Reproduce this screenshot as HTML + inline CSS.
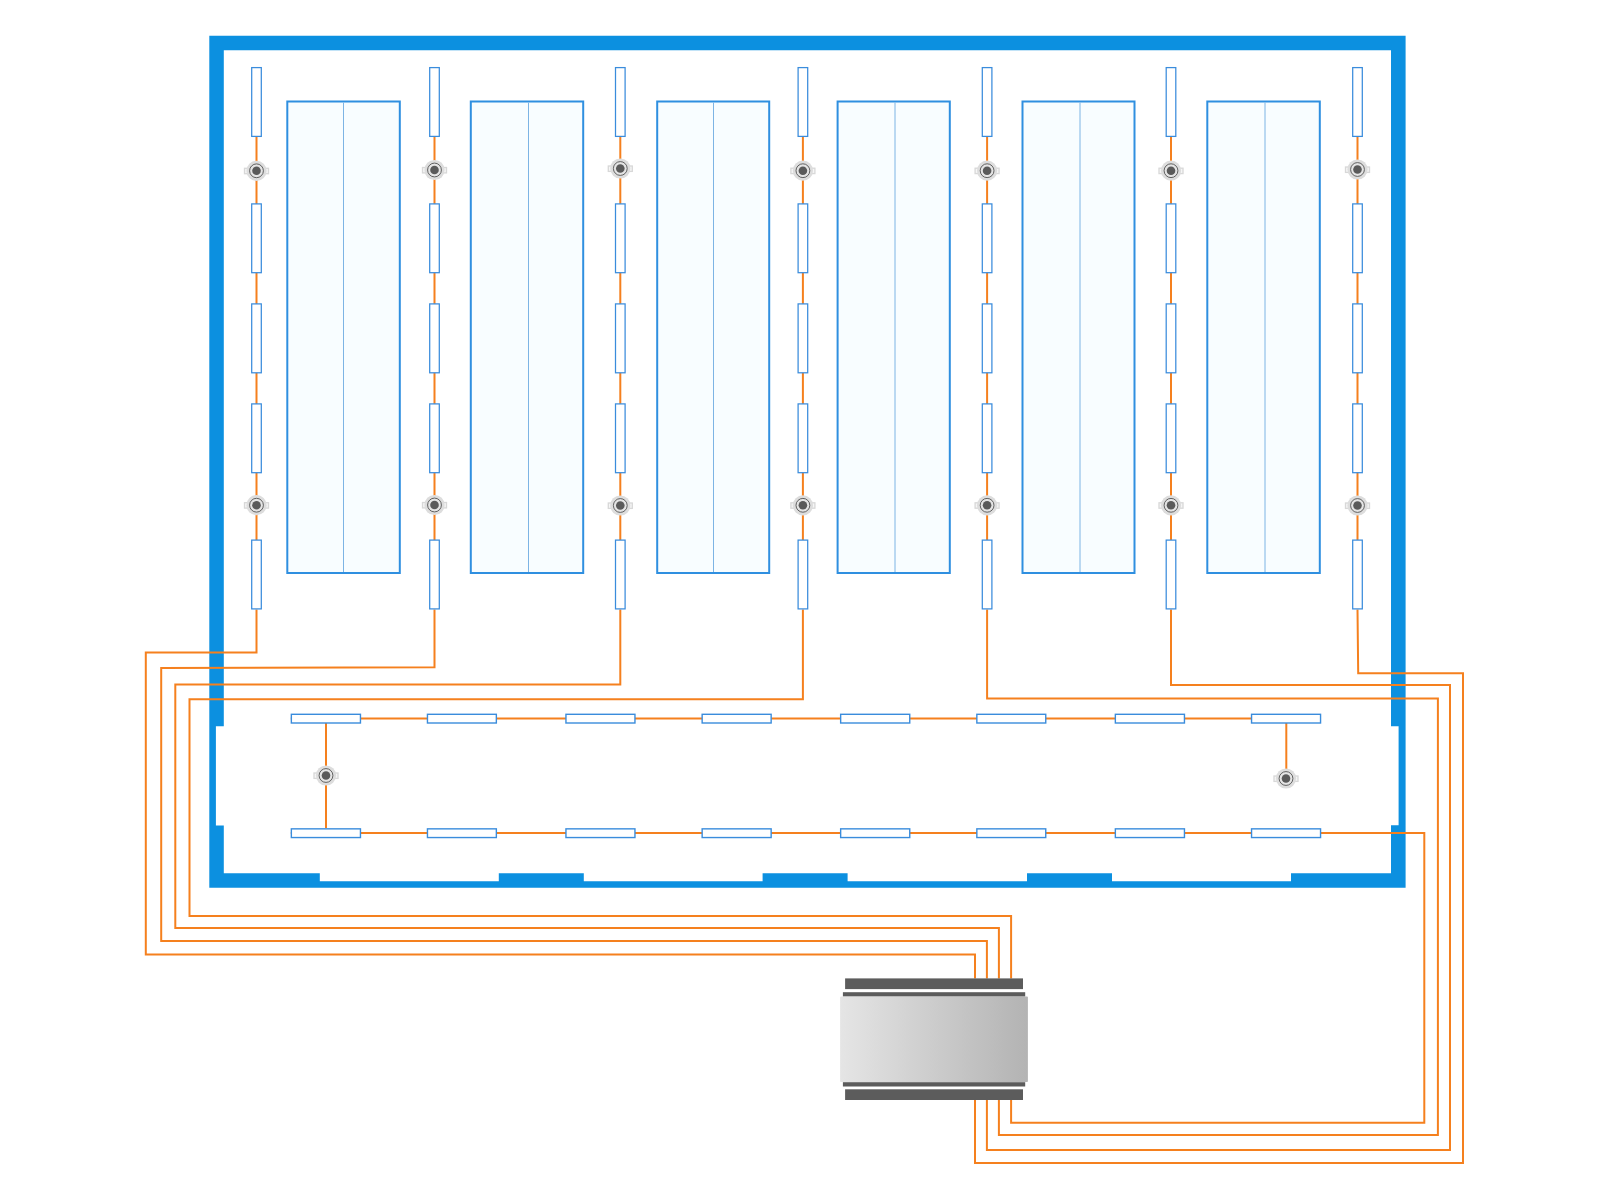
<!DOCTYPE html>
<html><head><meta charset="utf-8"><title>Lighting plan</title>
<style>html,body{margin:0;padding:0;background:#ffffff;width:1600px;height:1200px;overflow:hidden;font-family:"Liberation Sans",sans-serif;}svg{display:block;}</style>
</head><body>
<svg width="1600" height="1200" viewBox="0 0 1600 1200">
<rect width="1600" height="1200" fill="#ffffff"/>
<path d="M209.3,35.8 L1405.6,35.8 L1405.6,887.7 L209.3,887.7 Z M223.8,50.3 L1391.0,50.3 L1391.0,726.2 L1398.6,726.2 L1398.6,825.3 L1391.0,825.3 L1391.0,873.2 L1291.0,873.2 L1291.0,881.3 L1112.0,881.3 L1112.0,873.2 L1027.0,873.2 L1027.0,881.3 L847.6,881.3 L847.6,873.2 L762.6,873.2 L762.6,881.3 L583.8,881.3 L583.8,873.2 L498.8,873.2 L498.8,881.3 L319.8,881.3 L319.8,873.2 L223.8,873.2 L223.8,825.5 L215.9,825.5 L215.9,726.3 L223.8,726.3 Z" fill="#0c90e0" fill-rule="evenodd"/>
<rect x="287.3" y="101.5" width="112.50" height="471.5" fill="#f8fdff" stroke="#2f8fe0" stroke-width="2"/>
<line x1="343.5" y1="102.5" x2="343.5" y2="572" stroke="#7db4e4" stroke-width="1"/>
<rect x="470.8" y="101.5" width="112.40" height="471.5" fill="#f8fdff" stroke="#2f8fe0" stroke-width="2"/>
<line x1="528.5" y1="102.5" x2="528.5" y2="572" stroke="#7db4e4" stroke-width="1"/>
<rect x="657.2" y="101.5" width="112.00" height="471.5" fill="#f8fdff" stroke="#2f8fe0" stroke-width="2"/>
<line x1="713.5" y1="102.5" x2="713.5" y2="572" stroke="#7db4e4" stroke-width="1"/>
<rect x="837.6" y="101.5" width="112.20" height="471.5" fill="#f8fdff" stroke="#2f8fe0" stroke-width="2"/>
<line x1="895.0" y1="102.5" x2="895.0" y2="572" stroke="#7db4e4" stroke-width="1"/>
<rect x="1022.5" y="101.5" width="112.00" height="471.5" fill="#f8fdff" stroke="#2f8fe0" stroke-width="2"/>
<line x1="1080.0" y1="102.5" x2="1080.0" y2="572" stroke="#7db4e4" stroke-width="1"/>
<rect x="1207.3" y="101.5" width="112.50" height="471.5" fill="#f8fdff" stroke="#2f8fe0" stroke-width="2"/>
<line x1="1265.0" y1="102.5" x2="1265.0" y2="572" stroke="#7db4e4" stroke-width="1"/>
<line x1="256.5" y1="137" x2="256.5" y2="540" stroke="#f5801e" stroke-width="2.0"/>
<line x1="434.5" y1="137" x2="434.5" y2="540" stroke="#f5801e" stroke-width="2.0"/>
<line x1="620.3" y1="137" x2="620.3" y2="540" stroke="#f5801e" stroke-width="2.0"/>
<line x1="802.9" y1="137" x2="802.9" y2="540" stroke="#f5801e" stroke-width="2.0"/>
<line x1="987.1" y1="137" x2="987.1" y2="540" stroke="#f5801e" stroke-width="2.0"/>
<line x1="1171.0" y1="137" x2="1171.0" y2="540" stroke="#f5801e" stroke-width="2.0"/>
<line x1="1357.5" y1="137" x2="1357.5" y2="540" stroke="#f5801e" stroke-width="2.0"/>
<path d="M256.5,609.5 L256.5,652.5 L145.8,652.5 L145.8,954.6 L975.0,954.6 L975.0,978.5" fill="none" stroke="#f5801e" stroke-width="2.0" stroke-linejoin="miter"/>
<path d="M434.5,609.5 L434.5,667.2 L161.2,668.0 L161.2,941.1 L986.9,941.1 L986.9,978.5" fill="none" stroke="#f5801e" stroke-width="2.0" stroke-linejoin="miter"/>
<path d="M620.3,609.5 L620.3,684.6 L175.3,684.6 L175.3,928.0 L998.9,928.0 L998.9,978.5" fill="none" stroke="#f5801e" stroke-width="2.0" stroke-linejoin="miter"/>
<path d="M802.9,609.5 L802.9,699.3 L189.5,699.3 L189.5,916.0 L1011.1,916.0 L1011.1,978.5" fill="none" stroke="#f5801e" stroke-width="2.0" stroke-linejoin="miter"/>
<path d="M987.1,609.5 L987.1,698.5 L1437.9,698.5 L1437.9,1135.1 L998.9,1135.1 L998.9,1099.6" fill="none" stroke="#f5801e" stroke-width="2.0" stroke-linejoin="miter"/>
<path d="M1171.0,609.5 L1171.0,685.0 L1450.0,685.0 L1450.0,1149.9 L986.9,1149.9 L986.9,1099.6" fill="none" stroke="#f5801e" stroke-width="2.0" stroke-linejoin="miter"/>
<path d="M1357.5,609.5 L1358.2,673.2 L1463.0,673.2 L1463.0,1163.0 L975.0,1163.0 L975.0,1099.6" fill="none" stroke="#f5801e" stroke-width="2.0" stroke-linejoin="miter"/>
<path d="M290.8,833.0 L1424.3,833.0 L1424.3,1122.7 L1011.1,1122.7 L1011.1,1099.6" fill="none" stroke="#f5801e" stroke-width="2.0" stroke-linejoin="miter"/>
<line x1="290.8" y1="718.5" x2="1321" y2="718.5" stroke="#f5801e" stroke-width="2.0"/>
<line x1="326" y1="723" x2="326" y2="828" stroke="#f5801e" stroke-width="2.0"/>
<line x1="1286.3" y1="723" x2="1286.3" y2="770" stroke="#f5801e" stroke-width="2.0"/>
<rect x="251.70" y="67.60" width="9.6" height="68.80" fill="#ffffff" stroke="#3a8cdc" stroke-width="1.25"/>
<rect x="251.70" y="203.90" width="9.6" height="68.80" fill="#ffffff" stroke="#3a8cdc" stroke-width="1.25"/>
<rect x="251.70" y="303.90" width="9.6" height="68.90" fill="#ffffff" stroke="#3a8cdc" stroke-width="1.25"/>
<rect x="251.70" y="403.90" width="9.6" height="68.80" fill="#ffffff" stroke="#3a8cdc" stroke-width="1.25"/>
<rect x="251.70" y="540.10" width="9.6" height="68.80" fill="#ffffff" stroke="#3a8cdc" stroke-width="1.25"/>
<rect x="429.70" y="67.60" width="9.6" height="68.80" fill="#ffffff" stroke="#3a8cdc" stroke-width="1.25"/>
<rect x="429.70" y="203.90" width="9.6" height="68.80" fill="#ffffff" stroke="#3a8cdc" stroke-width="1.25"/>
<rect x="429.70" y="303.90" width="9.6" height="68.90" fill="#ffffff" stroke="#3a8cdc" stroke-width="1.25"/>
<rect x="429.70" y="403.90" width="9.6" height="68.80" fill="#ffffff" stroke="#3a8cdc" stroke-width="1.25"/>
<rect x="429.70" y="540.10" width="9.6" height="68.80" fill="#ffffff" stroke="#3a8cdc" stroke-width="1.25"/>
<rect x="615.50" y="67.60" width="9.6" height="68.80" fill="#ffffff" stroke="#3a8cdc" stroke-width="1.25"/>
<rect x="615.50" y="203.90" width="9.6" height="68.80" fill="#ffffff" stroke="#3a8cdc" stroke-width="1.25"/>
<rect x="615.50" y="303.90" width="9.6" height="68.90" fill="#ffffff" stroke="#3a8cdc" stroke-width="1.25"/>
<rect x="615.50" y="403.90" width="9.6" height="68.80" fill="#ffffff" stroke="#3a8cdc" stroke-width="1.25"/>
<rect x="615.50" y="540.10" width="9.6" height="68.80" fill="#ffffff" stroke="#3a8cdc" stroke-width="1.25"/>
<rect x="798.10" y="67.60" width="9.6" height="68.80" fill="#ffffff" stroke="#3a8cdc" stroke-width="1.25"/>
<rect x="798.10" y="203.90" width="9.6" height="68.80" fill="#ffffff" stroke="#3a8cdc" stroke-width="1.25"/>
<rect x="798.10" y="303.90" width="9.6" height="68.90" fill="#ffffff" stroke="#3a8cdc" stroke-width="1.25"/>
<rect x="798.10" y="403.90" width="9.6" height="68.80" fill="#ffffff" stroke="#3a8cdc" stroke-width="1.25"/>
<rect x="798.10" y="540.10" width="9.6" height="68.80" fill="#ffffff" stroke="#3a8cdc" stroke-width="1.25"/>
<rect x="982.30" y="67.60" width="9.6" height="68.80" fill="#ffffff" stroke="#3a8cdc" stroke-width="1.25"/>
<rect x="982.30" y="203.90" width="9.6" height="68.80" fill="#ffffff" stroke="#3a8cdc" stroke-width="1.25"/>
<rect x="982.30" y="303.90" width="9.6" height="68.90" fill="#ffffff" stroke="#3a8cdc" stroke-width="1.25"/>
<rect x="982.30" y="403.90" width="9.6" height="68.80" fill="#ffffff" stroke="#3a8cdc" stroke-width="1.25"/>
<rect x="982.30" y="540.10" width="9.6" height="68.80" fill="#ffffff" stroke="#3a8cdc" stroke-width="1.25"/>
<rect x="1166.20" y="67.60" width="9.6" height="68.80" fill="#ffffff" stroke="#3a8cdc" stroke-width="1.25"/>
<rect x="1166.20" y="203.90" width="9.6" height="68.80" fill="#ffffff" stroke="#3a8cdc" stroke-width="1.25"/>
<rect x="1166.20" y="303.90" width="9.6" height="68.90" fill="#ffffff" stroke="#3a8cdc" stroke-width="1.25"/>
<rect x="1166.20" y="403.90" width="9.6" height="68.80" fill="#ffffff" stroke="#3a8cdc" stroke-width="1.25"/>
<rect x="1166.20" y="540.10" width="9.6" height="68.80" fill="#ffffff" stroke="#3a8cdc" stroke-width="1.25"/>
<rect x="1352.70" y="67.60" width="9.6" height="68.80" fill="#ffffff" stroke="#3a8cdc" stroke-width="1.25"/>
<rect x="1352.70" y="203.90" width="9.6" height="68.80" fill="#ffffff" stroke="#3a8cdc" stroke-width="1.25"/>
<rect x="1352.70" y="303.90" width="9.6" height="68.90" fill="#ffffff" stroke="#3a8cdc" stroke-width="1.25"/>
<rect x="1352.70" y="403.90" width="9.6" height="68.80" fill="#ffffff" stroke="#3a8cdc" stroke-width="1.25"/>
<rect x="1352.70" y="540.10" width="9.6" height="68.80" fill="#ffffff" stroke="#3a8cdc" stroke-width="1.25"/>
<rect x="291.35" y="714.30" width="69.10" height="8.7" fill="#ffffff" stroke="#3a8cdc" stroke-width="1.4"/>
<rect x="291.35" y="828.85" width="69.10" height="8.7" fill="#ffffff" stroke="#3a8cdc" stroke-width="1.4"/>
<rect x="427.45" y="714.30" width="68.90" height="8.7" fill="#ffffff" stroke="#3a8cdc" stroke-width="1.4"/>
<rect x="427.45" y="828.85" width="68.90" height="8.7" fill="#ffffff" stroke="#3a8cdc" stroke-width="1.4"/>
<rect x="565.95" y="714.30" width="69.00" height="8.7" fill="#ffffff" stroke="#3a8cdc" stroke-width="1.4"/>
<rect x="565.95" y="828.85" width="69.00" height="8.7" fill="#ffffff" stroke="#3a8cdc" stroke-width="1.4"/>
<rect x="702.15" y="714.30" width="69.00" height="8.7" fill="#ffffff" stroke="#3a8cdc" stroke-width="1.4"/>
<rect x="702.15" y="828.85" width="69.00" height="8.7" fill="#ffffff" stroke="#3a8cdc" stroke-width="1.4"/>
<rect x="840.65" y="714.30" width="69.10" height="8.7" fill="#ffffff" stroke="#3a8cdc" stroke-width="1.4"/>
<rect x="840.65" y="828.85" width="69.10" height="8.7" fill="#ffffff" stroke="#3a8cdc" stroke-width="1.4"/>
<rect x="976.85" y="714.30" width="68.90" height="8.7" fill="#ffffff" stroke="#3a8cdc" stroke-width="1.4"/>
<rect x="976.85" y="828.85" width="68.90" height="8.7" fill="#ffffff" stroke="#3a8cdc" stroke-width="1.4"/>
<rect x="1115.35" y="714.30" width="69.10" height="8.7" fill="#ffffff" stroke="#3a8cdc" stroke-width="1.4"/>
<rect x="1115.35" y="828.85" width="69.10" height="8.7" fill="#ffffff" stroke="#3a8cdc" stroke-width="1.4"/>
<rect x="1251.55" y="714.30" width="69.00" height="8.7" fill="#ffffff" stroke="#3a8cdc" stroke-width="1.4"/>
<rect x="1251.55" y="828.85" width="69.00" height="8.7" fill="#ffffff" stroke="#3a8cdc" stroke-width="1.4"/>
<g transform="translate(256.5,170.8)"><rect x="-12.0" y="-2.5" width="24.0" height="5.4" fill="#f6f6f6" stroke="#d8d8d8" stroke-width="1.3"/><circle r="10.1" fill="#dddddd"/><circle r="6.9" fill="#e4e4e4" stroke="#4a4a4a" stroke-width="0.85"/><circle r="4.3" fill="#5a5a5a"/></g>
<g transform="translate(256.5,505.2)"><rect x="-12.0" y="-2.5" width="24.0" height="5.4" fill="#f6f6f6" stroke="#d8d8d8" stroke-width="1.3"/><circle r="10.1" fill="#dddddd"/><circle r="6.9" fill="#e4e4e4" stroke="#4a4a4a" stroke-width="0.85"/><circle r="4.3" fill="#5a5a5a"/></g>
<g transform="translate(434.5,170.0)"><rect x="-12.0" y="-2.5" width="24.0" height="5.4" fill="#f6f6f6" stroke="#d8d8d8" stroke-width="1.3"/><circle r="10.1" fill="#dddddd"/><circle r="6.9" fill="#e4e4e4" stroke="#4a4a4a" stroke-width="0.85"/><circle r="4.3" fill="#5a5a5a"/></g>
<g transform="translate(434.5,505.0)"><rect x="-12.0" y="-2.5" width="24.0" height="5.4" fill="#f6f6f6" stroke="#d8d8d8" stroke-width="1.3"/><circle r="10.1" fill="#dddddd"/><circle r="6.9" fill="#e4e4e4" stroke="#4a4a4a" stroke-width="0.85"/><circle r="4.3" fill="#5a5a5a"/></g>
<g transform="translate(620.3,168.5)"><rect x="-12.0" y="-2.5" width="24.0" height="5.4" fill="#f6f6f6" stroke="#d8d8d8" stroke-width="1.3"/><circle r="10.1" fill="#dddddd"/><circle r="6.9" fill="#e4e4e4" stroke="#4a4a4a" stroke-width="0.85"/><circle r="4.3" fill="#5a5a5a"/></g>
<g transform="translate(620.3,505.5)"><rect x="-12.0" y="-2.5" width="24.0" height="5.4" fill="#f6f6f6" stroke="#d8d8d8" stroke-width="1.3"/><circle r="10.1" fill="#dddddd"/><circle r="6.9" fill="#e4e4e4" stroke="#4a4a4a" stroke-width="0.85"/><circle r="4.3" fill="#5a5a5a"/></g>
<g transform="translate(802.9,170.7)"><rect x="-12.0" y="-2.5" width="24.0" height="5.4" fill="#f6f6f6" stroke="#d8d8d8" stroke-width="1.3"/><circle r="10.1" fill="#dddddd"/><circle r="6.9" fill="#e4e4e4" stroke="#4a4a4a" stroke-width="0.85"/><circle r="4.3" fill="#5a5a5a"/></g>
<g transform="translate(802.9,505.3)"><rect x="-12.0" y="-2.5" width="24.0" height="5.4" fill="#f6f6f6" stroke="#d8d8d8" stroke-width="1.3"/><circle r="10.1" fill="#dddddd"/><circle r="6.9" fill="#e4e4e4" stroke="#4a4a4a" stroke-width="0.85"/><circle r="4.3" fill="#5a5a5a"/></g>
<g transform="translate(987.1,170.7)"><rect x="-12.0" y="-2.5" width="24.0" height="5.4" fill="#f6f6f6" stroke="#d8d8d8" stroke-width="1.3"/><circle r="10.1" fill="#dddddd"/><circle r="6.9" fill="#e4e4e4" stroke="#4a4a4a" stroke-width="0.85"/><circle r="4.3" fill="#5a5a5a"/></g>
<g transform="translate(987.1,505.3)"><rect x="-12.0" y="-2.5" width="24.0" height="5.4" fill="#f6f6f6" stroke="#d8d8d8" stroke-width="1.3"/><circle r="10.1" fill="#dddddd"/><circle r="6.9" fill="#e4e4e4" stroke="#4a4a4a" stroke-width="0.85"/><circle r="4.3" fill="#5a5a5a"/></g>
<g transform="translate(1171.0,170.7)"><rect x="-12.0" y="-2.5" width="24.0" height="5.4" fill="#f6f6f6" stroke="#d8d8d8" stroke-width="1.3"/><circle r="10.1" fill="#dddddd"/><circle r="6.9" fill="#e4e4e4" stroke="#4a4a4a" stroke-width="0.85"/><circle r="4.3" fill="#5a5a5a"/></g>
<g transform="translate(1171.0,505.3)"><rect x="-12.0" y="-2.5" width="24.0" height="5.4" fill="#f6f6f6" stroke="#d8d8d8" stroke-width="1.3"/><circle r="10.1" fill="#dddddd"/><circle r="6.9" fill="#e4e4e4" stroke="#4a4a4a" stroke-width="0.85"/><circle r="4.3" fill="#5a5a5a"/></g>
<g transform="translate(1357.5,169.5)"><rect x="-12.0" y="-2.5" width="24.0" height="5.4" fill="#f6f6f6" stroke="#d8d8d8" stroke-width="1.3"/><circle r="10.1" fill="#dddddd"/><circle r="6.9" fill="#e4e4e4" stroke="#4a4a4a" stroke-width="0.85"/><circle r="4.3" fill="#5a5a5a"/></g>
<g transform="translate(1357.5,505.5)"><rect x="-12.0" y="-2.5" width="24.0" height="5.4" fill="#f6f6f6" stroke="#d8d8d8" stroke-width="1.3"/><circle r="10.1" fill="#dddddd"/><circle r="6.9" fill="#e4e4e4" stroke="#4a4a4a" stroke-width="0.85"/><circle r="4.3" fill="#5a5a5a"/></g>
<g transform="translate(326,775.5)"><rect x="-12.0" y="-2.5" width="24.0" height="5.4" fill="#f6f6f6" stroke="#d8d8d8" stroke-width="1.3"/><circle r="10.1" fill="#dddddd"/><circle r="6.9" fill="#e4e4e4" stroke="#4a4a4a" stroke-width="0.85"/><circle r="4.3" fill="#5a5a5a"/></g>
<g transform="translate(1286,778.5)"><rect x="-12.0" y="-2.5" width="24.0" height="5.4" fill="#f6f6f6" stroke="#d8d8d8" stroke-width="1.3"/><circle r="10.1" fill="#dddddd"/><circle r="6.9" fill="#e4e4e4" stroke="#4a4a4a" stroke-width="0.85"/><circle r="4.3" fill="#5a5a5a"/></g>
<defs><linearGradient id="tg" x1="0" x2="1" y1="0" y2="0"><stop offset="0" stop-color="#e5e5e5"/><stop offset="1" stop-color="#b3b3b3"/></linearGradient></defs>
<rect x="845.1" y="978.4" width="177.9" height="10.7" fill="#5c5c5c"/>
<rect x="842.9" y="992.2" width="182.3" height="4.4" fill="#5c5c5c"/>
<rect x="840.1" y="996.6" width="187.8" height="85.5" rx="0.8" fill="url(#tg)"/>
<rect x="842.9" y="1082.2" width="182.3" height="4.3" fill="#5c5c5c"/>
<rect x="845.1" y="1089.3" width="177.9" height="10.7" fill="#5c5c5c"/>
</svg>
</body></html>
